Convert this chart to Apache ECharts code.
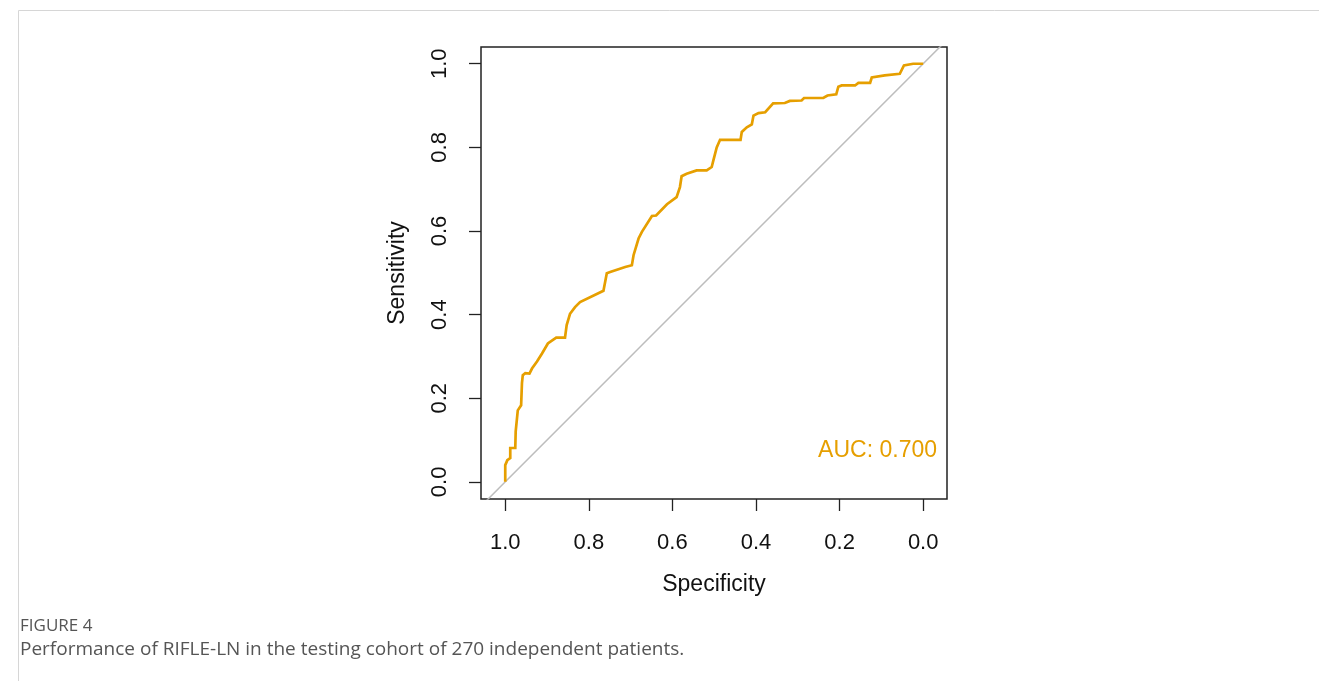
<!DOCTYPE html>
<html>
<head>
<meta charset="utf-8">
<script src="https://cdn.jsdelivr.net/npm/echarts@6/dist/echarts.min.js"></script>
<style>
  html, body { margin: 0; padding: 0; background: #fff; }
  #chart { width: 1319px; height: 681px; }
</style>
</head>
<body>
<div id="chart"></div>
<script>
// ROC curve (specificity, sensitivity)
var specificity = [1.000, 1.000, 0.995, 0.988, 0.988, 0.976, 0.975, 0.970, 0.962, 0.960,
  0.958, 0.952, 0.942, 0.936, 0.924, 0.912, 0.898, 0.878, 0.857, 0.853,
  0.845, 0.833, 0.821, 0.765, 0.757, 0.749, 0.713, 0.697, 0.693, 0.681,
  0.673, 0.649, 0.639, 0.613, 0.590, 0.582, 0.578, 0.566, 0.542, 0.518,
  0.506, 0.502, 0.494, 0.486, 0.437, 0.434, 0.422, 0.410, 0.406, 0.394,
  0.378, 0.359, 0.331, 0.319, 0.291, 0.285, 0.239, 0.229, 0.208, 0.203,
  0.195, 0.163, 0.155, 0.127, 0.123, 0.092, 0.056, 0.046, 0.024, 0.000];
var sensitivity = [0.000, 0.040, 0.052, 0.057, 0.081, 0.081, 0.121, 0.171, 0.183, 0.236,
  0.255, 0.260, 0.259, 0.271, 0.288, 0.307, 0.331, 0.345, 0.345, 0.375,
  0.402, 0.418, 0.430, 0.457, 0.499, 0.502, 0.514, 0.518, 0.542, 0.582,
  0.598, 0.636, 0.637, 0.664, 0.681, 0.705, 0.731, 0.737, 0.745, 0.745,
  0.753, 0.769, 0.800, 0.818, 0.818, 0.837, 0.848, 0.855, 0.876, 0.882,
  0.884, 0.905, 0.906, 0.911, 0.912, 0.918, 0.918, 0.924, 0.927, 0.945,
  0.948, 0.948, 0.954, 0.954, 0.967, 0.972, 0.976, 0.996, 1.000, 1.000];

// chance line sens = 1 - spec, drawn across the whole box
var diagSpec = [1.1, -0.1];
var diagSens = [-0.1, 1.1];

var tickValues = [0, 0.2, 0.4, 0.6, 0.8, 1.0];
var aucText = 'AUC: 0.700';
var captionLabel = 'FIGURE 4';
var captionText = 'Performance of RIFLE-LN in the testing cohort of 270 independent patients.';

var rocData = specificity.map(function (s, i) { return [s, sensitivity[i]]; });
var diagData = diagSpec.map(function (s, i) { return [s, diagSens[i]]; });

var chart = echarts.init(document.getElementById('chart'));
var axisFont = "'Liberation Sans', Arial, sans-serif";
var capFont = "'Open Sans', 'Noto Sans', sans-serif";

function fmt(v) { return v.toFixed(1); }

chart.setOption({
  animation: false,
  backgroundColor: '#fff',
  grid: {
    left: 481, top: 47, width: 466, height: 452,
    show: true, borderColor: '#222', borderWidth: 1.5, backgroundColor: 'transparent'
  },
  xAxis: {
    type: 'value', inverse: true, min: -0.057, max: 1.058,
    name: 'Specificity', nameLocation: 'middle', nameGap: 74,
    nameTextStyle: { fontFamily: axisFont, fontSize: 23, color: '#111' },
    axisLine: { show: false, onZero: false },
    splitLine: { show: false },
    axisTick: { show: true, length: 12, customValues: tickValues, lineStyle: { color: '#222', width: 1.3 } },
    axisLabel: { customValues: tickValues, margin: 33, fontFamily: axisFont, fontSize: 22, color: '#111', formatter: fmt }
  },
  yAxis: {
    type: 'value', min: -0.041, max: 1.040,
    name: 'Sensitivity', nameLocation: 'middle', nameGap: 72,
    nameTextStyle: { fontFamily: axisFont, fontSize: 23, color: '#111' },
    axisLine: { show: false, onZero: false },
    splitLine: { show: false },
    axisTick: { show: true, length: 12, customValues: tickValues, lineStyle: { color: '#222', width: 1.3 } },
    axisLabel: { customValues: tickValues, margin: 30, rotate: 90, fontFamily: axisFont, fontSize: 22, color: '#111', formatter: fmt }
  },
  series: [
    {
      type: 'line', data: diagData, symbol: 'none', silent: true,
      lineStyle: { color: '#bdbdbd', width: 1.5 }
    },
    {
      type: 'line', data: rocData, symbol: 'none',
      lineStyle: { color: '#E69F00', width: 2.7, join: 'miter' }
    }
  ],
  graphic: [
    { type: 'rect', shape: { x: 18.5, y: 10.5, width: 1400, height: 700 }, style: { fill: 'none', stroke: '#d6d6d6', lineWidth: 1 }, silent: true },
    { type: 'text', right: 1319 - 937, top: 439, style: { text: aucText, fill: '#E69F00', font: '23px ' + axisFont } },
    { type: 'text', left: 20, top: 618, style: { text: captionLabel, fill: '#555', font: '500 17px ' + capFont } },
    { type: 'text', left: 20, top: 640, style: { text: captionText, fill: '#555', font: '19px ' + capFont } }
  ]
});
</script>
</body>
</html>
